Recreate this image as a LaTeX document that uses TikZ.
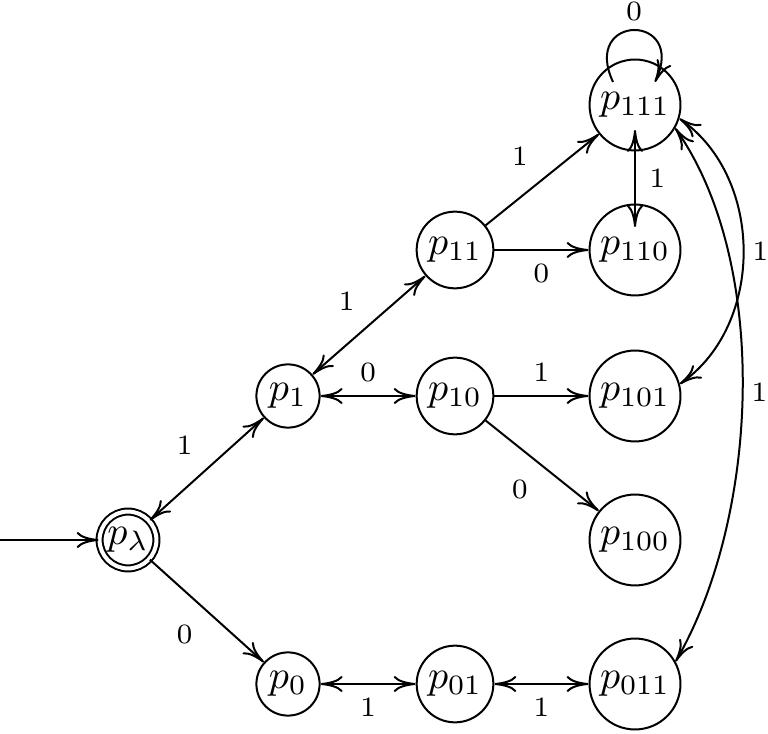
\documentclass[tikz,border=0pt]{standalone}
\usetikzlibrary{arrows.meta}
\tikzset{
  >={To[length=5.5pt,width=4pt]},
  state/.style={circle,draw,inner sep=1.6pt},
  accept/.style={state,double,double distance=1pt,inner sep=0.8pt},
  tag/.style={font=\scriptsize},
}
\begin{document}
\begin{tikzpicture}[x=0.25pt,y=0.25pt,line width=0.5pt]
  \useasboundingbox (0,0) rectangle (768,-734);
  % states
  \node[accept] (pl) at (128,-540) {$p_\lambda$};
  \node[state] (p1) at (288,-396) {$p_1$};
  \node[state] (p0) at (288,-684) {$p_0$};
  \node[state] (p11) at (455,-250) {$p_{11}$};
  \node[state] (p10) at (455,-396) {$p_{10}$};
  \node[state] (p01) at (455,-684) {$p_{01}$};
  \node[state] (p111) at (635,-105) {$p_{111}$};
  \node[state] (p110) at (635,-250) {$p_{110}$};
  \node[state] (p101) at (635,-396) {$p_{101}$};
  \node[state] (p100) at (635,-540) {$p_{100}$};
  \node[state] (p011) at (635,-684) {$p_{011}$};
  \coordinate (init) at (0,-540);
  % transitions
  \draw[->] (init) -- (pl);
  \draw[<->] (pl) -- node[tag,auto] {1} (p1);
  \draw[->] (pl) -- node[tag,auto,swap] {0} (p0);
  \draw[<->] (p1) -- node[tag,auto] {1} (p11);
  \draw[<->] (p1) -- node[tag,auto] {0} (p10);
  \draw[<->] (p0) -- node[tag,auto,swap] {1} (p01);
  \draw[<->] (p01) -- node[tag,auto,swap] {1} (p011);
  \draw[->] (p11) -- node[tag,auto] {1} (p111);
  \draw[->] (p11) -- node[tag,auto,swap] {0} (p110);
  \draw[->] (p10) -- node[tag,auto] {1} (p101);
  \draw[->] (p10) -- node[tag,auto,swap] {0} (p100);
  \draw[<->] ([yshift=-6.25pt]p111.center) -- node[tag,auto] {1} ([yshift=5.75pt]p110.center);
  % loop and long bends
  \draw[->] ([xshift=-5.5pt,yshift=5.75pt]p111.center) to[out=115,in=65,looseness=4.65]
    node[tag,above,inner sep=2pt] {0} ([xshift=5pt,yshift=5.75pt]p111.center);
  \draw[<->] (p111.-17) to[out=-35,in=35] node[tag,auto,inner sep=2pt] {1} (p101.15);
  \draw[<->] (p111.-30) to[out=-55,in=60,looseness=0.8] node[tag,auto,inner sep=2pt] {1} (p011.29);
\end{tikzpicture}
\end{document}
